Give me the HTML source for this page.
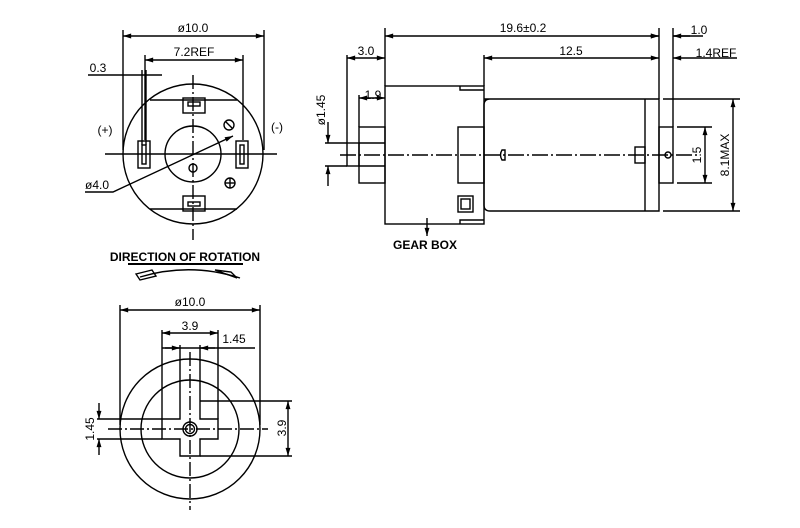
<!DOCTYPE html>
<html><head><style>body{margin:0;background:#fff}svg{display:block}text{font-family:"Liberation Sans",sans-serif;font-size:12px;fill:#000}</style></head><body>
<svg width="800" height="528" viewBox="0 0 800 528" xmlns="http://www.w3.org/2000/svg">
<defs><marker id="a" viewBox="0 0 10 6" refX="10" refY="3" markerWidth="7" markerHeight="3.5" orient="auto-start-reverse"><path d="M0,0L10,3L0,6z" fill="#000"/></marker></defs>
<g stroke="#000" fill="none" stroke-width="1.4">
<!-- top-left view -->
<circle cx="193" cy="154" r="70"/>
<circle cx="193" cy="154" r="28"/>
<line x1="105" y1="154" x2="277" y2="154"/>
<line x1="193" y1="75" x2="193" y2="240" stroke-dasharray="14,3,2,3"/>
<line x1="150" y1="100" x2="237" y2="100"/><line x1="150" y1="209" x2="237" y2="209"/>
<rect x="183" y="98" width="22" height="15"/><rect x="188" y="102" width="12" height="4"/>
<rect x="183" y="196" width="22" height="15"/><rect x="188" y="202" width="12" height="4"/>
<rect x="138" y="141" width="12" height="27"/><rect x="142" y="145" width="4" height="19"/>
<rect x="236" y="141" width="12" height="27"/><rect x="240" y="145" width="4" height="19"/>
<line x1="142" y1="70" x2="142" y2="145"/><line x1="146" y1="70" x2="146" y2="145"/>
<circle cx="229" cy="125" r="5"/><line x1="226" y1="122" x2="232" y2="128"/>
<circle cx="230" cy="183" r="5"/><line x1="225" y1="183" x2="235" y2="183"/><line x1="230" y1="178" x2="230" y2="188"/>
<circle cx="193" cy="168" r="4"/>
<line x1="123" y1="30" x2="123" y2="150"/><line x1="264" y1="30" x2="264" y2="150"/>
<line x1="123" y1="36" x2="264" y2="36" marker-start="url(#a)" marker-end="url(#a)"/>
<line x1="145" y1="55" x2="145" y2="140"/><line x1="243" y1="55" x2="243" y2="140"/>
<line x1="145" y1="60" x2="243" y2="60" marker-start="url(#a)" marker-end="url(#a)"/>
<line x1="88" y1="75" x2="162" y2="75"/>
<polyline points="85,192 113,192 233,136" marker-end="url(#a)"/>
<line x1="128" y1="264" x2="243" y2="264" stroke-width="2"/>
<path d="M140,277 Q190,262 240,278"/>
<path d="M136,274 l16,-4 l4,6 l-16,4z"/><path d="M215,270 l22,8 l-6,-6z"/>
<!-- side view -->
<rect x="385" y="86" width="99" height="138"/>
<path d="M460,86v4h24M460,224v-4h24"/>
<rect x="458" y="127" width="26" height="56"/>
<rect x="458" y="196" width="15" height="16"/><rect x="461" y="199" width="9" height="10"/>
<path d="M484,99H659V211H490Q484,211 484,205V105Q484,99 490,99z"/>
<line x1="645" y1="99" x2="645" y2="211"/>
<rect x="659" y="127" width="14" height="56"/>
<rect x="359" y="127" width="26" height="56"/>
<line x1="359" y1="143" x2="385" y2="143"/><line x1="359" y1="166" x2="385" y2="166"/>
<rect x="347" y="143" width="12" height="23"/>
<line x1="340" y1="155" x2="700" y2="155" stroke-dasharray="16,3,2,3"/>
<path d="M502,150q-3,5 0,10h3v-10z"/>
<rect x="635" y="147" width="10" height="16"/>
<circle cx="668" cy="155" r="3"/>
<line x1="385" y1="28" x2="385" y2="86"/><line x1="659" y1="28" x2="659" y2="99"/><line x1="673" y1="28" x2="673" y2="127"/>
<line x1="385" y1="36" x2="659" y2="36" marker-start="url(#a)" marker-end="url(#a)"/>
<line x1="673" y1="36" x2="703" y2="36"/><line x1="650" y1="36" x2="659" y2="36" marker-end="url(#a)"/><line x1="690" y1="36" x2="673" y2="36" marker-end="url(#a)"/>
<line x1="347" y1="55" x2="347" y2="143"/><line x1="484" y1="55" x2="484" y2="86"/>
<line x1="347" y1="58" x2="385" y2="58" marker-start="url(#a)" marker-end="url(#a)"/>
<line x1="484" y1="58" x2="659" y2="58" marker-start="url(#a)" marker-end="url(#a)"/>
<line x1="690" y1="58" x2="737" y2="58"/><line x1="690" y1="58" x2="673" y2="58" marker-end="url(#a)"/>
<line x1="359" y1="95" x2="359" y2="127"/>
<line x1="359" y1="98" x2="385" y2="98" marker-start="url(#a)" marker-end="url(#a)"/>
<line x1="325" y1="143" x2="347" y2="143"/><line x1="325" y1="166" x2="347" y2="166"/>
<line x1="328" y1="122" x2="328" y2="143" marker-end="url(#a)"/><line x1="328" y1="186" x2="328" y2="166" marker-end="url(#a)"/>
<line x1="663" y1="99" x2="740" y2="99"/><line x1="663" y1="211" x2="740" y2="211"/>
<line x1="733" y1="99" x2="733" y2="211" marker-start="url(#a)" marker-end="url(#a)"/>
<line x1="677" y1="127" x2="712" y2="127"/><line x1="677" y1="183" x2="712" y2="183"/>
<line x1="705" y1="127" x2="705" y2="183" marker-start="url(#a)" marker-end="url(#a)"/>
<line x1="427" y1="218" x2="427" y2="236" marker-end="url(#a)"/>
<!-- bottom view -->
<circle cx="190" cy="429" r="70"/>
<circle cx="190" cy="429" r="49"/>
<circle cx="190" cy="429" r="7"/><circle cx="190" cy="429" r="4.5"/>
<path d="M180,359V419H162V439H180V456H200V439H218V419H200V359"/>
<line x1="108" y1="429" x2="268" y2="429" stroke-dasharray="14,3,2,3"/>
<line x1="190" y1="352" x2="190" y2="510" stroke-dasharray="14,3,2,3"/>
<line x1="120" y1="305" x2="120" y2="425"/><line x1="260" y1="305" x2="260" y2="425"/>
<line x1="120" y1="310" x2="260" y2="310" marker-start="url(#a)" marker-end="url(#a)"/>
<line x1="162" y1="330" x2="162" y2="419"/><line x1="218" y1="330" x2="218" y2="419"/>
<line x1="162" y1="333" x2="218" y2="333" marker-start="url(#a)" marker-end="url(#a)"/>
<line x1="180" y1="345" x2="180" y2="359"/><line x1="200" y1="345" x2="200" y2="359"/>
<line x1="162" y1="348" x2="255" y2="348"/>
<line x1="165" y1="348" x2="180" y2="348" marker-end="url(#a)"/><line x1="215" y1="348" x2="200" y2="348" marker-end="url(#a)"/>
<line x1="200" y1="401" x2="292" y2="401"/><line x1="200" y1="456" x2="292" y2="456"/>
<line x1="288" y1="401" x2="288" y2="456" marker-start="url(#a)" marker-end="url(#a)"/>
<line x1="97" y1="419" x2="162" y2="419"/><line x1="97" y1="439" x2="162" y2="439"/>
<line x1="99" y1="403" x2="99" y2="419" marker-end="url(#a)"/><line x1="99" y1="455" x2="99" y2="439" marker-end="url(#a)"/>
</g>
<text x="193" y="32" text-anchor="middle">ø10.0</text>
<text x="194" y="56" text-anchor="middle">7.2REF</text>
<text x="98" y="72" text-anchor="middle">0.3</text>
<text x="105" y="134" text-anchor="middle" font-size="10">(+)</text>
<text x="277" y="131" text-anchor="middle" font-size="10">(-)</text>
<text x="97" y="189" text-anchor="middle">ø4.0</text>
<text x="185" y="261" text-anchor="middle" font-size="8" font-weight="bold">DIRECTION OF ROTATION</text>
<text x="523" y="32" text-anchor="middle">19.6±0.2</text>
<text x="699" y="34" text-anchor="middle">1.0</text>
<text x="366" y="55" text-anchor="middle">3.0</text>
<text x="571" y="55" text-anchor="middle">12.5</text>
<text x="716" y="57" text-anchor="middle">1.4REF</text>
<text x="373" y="99" text-anchor="middle">1.9</text>
<text x="425" y="249" text-anchor="middle" font-size="8" font-weight="bold">GEAR BOX</text>
<text transform="translate(325,110) rotate(-90)" text-anchor="middle">ø1.45</text>
<text transform="translate(701,155) rotate(-90)" text-anchor="middle">1.5</text>
<text transform="translate(729,155) rotate(-90)" text-anchor="middle">8.1MAX</text>
<text x="190" y="306" text-anchor="middle">ø10.0</text>
<text x="190" y="330" text-anchor="middle">3.9</text>
<text x="234" y="343" text-anchor="middle">1.45</text>
<text transform="translate(286,428) rotate(-90)" text-anchor="middle">3.9</text>
<text transform="translate(94,429) rotate(-90)" text-anchor="middle">1.45</text>
</svg>
</body></html>
